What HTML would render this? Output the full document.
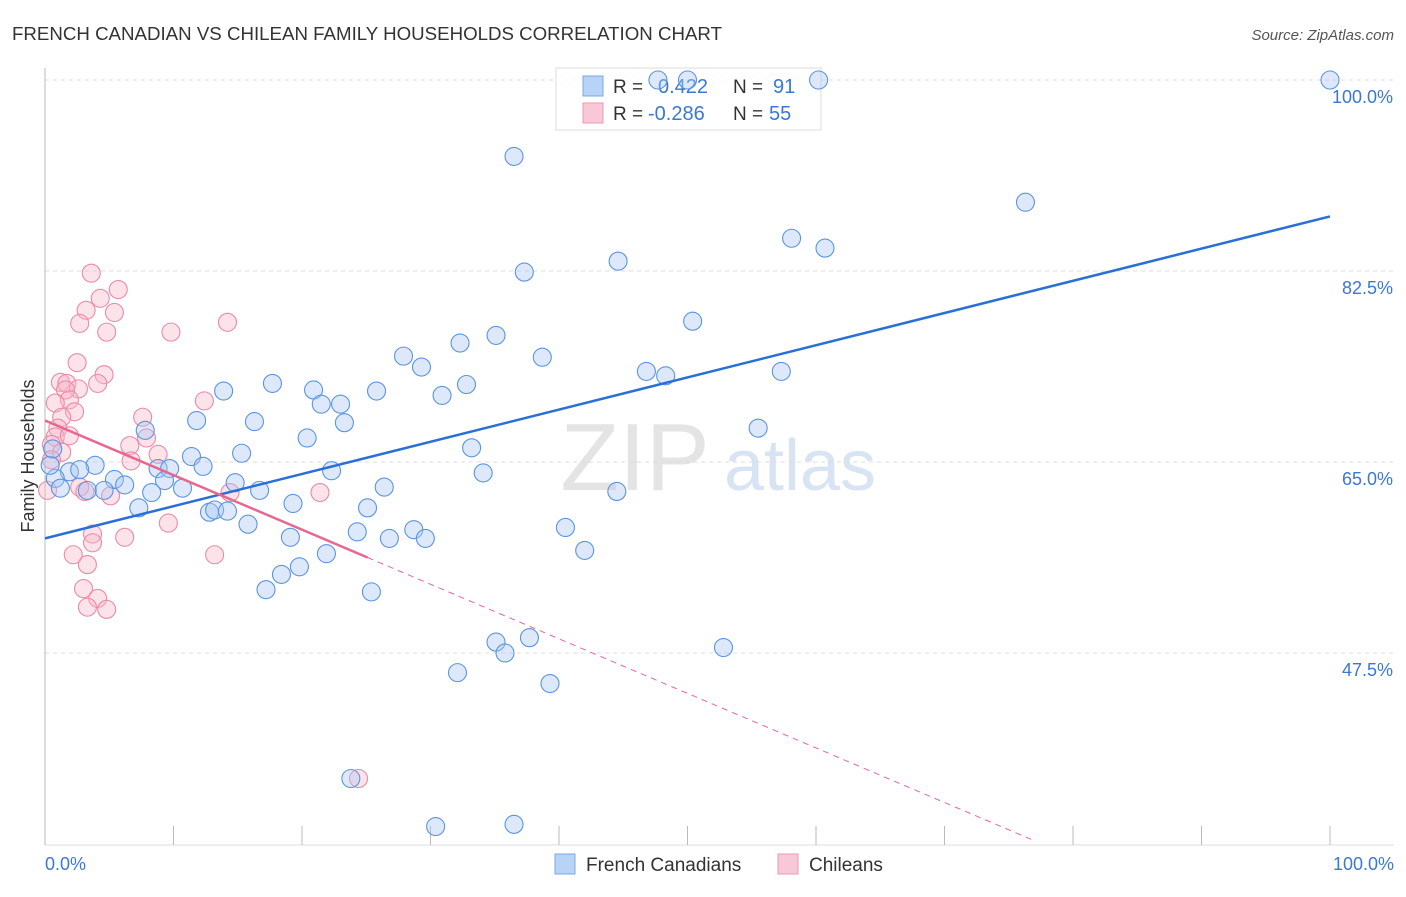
<!DOCTYPE html>
<html><head><meta charset="utf-8"><style>
body{margin:0;background:#fff;font-family:"Liberation Sans",sans-serif;}
svg text{font-family:"Liberation Sans",sans-serif;}
</style></head><body>
<svg id="chart" width="1406" height="892" xmlns="http://www.w3.org/2000/svg">
<text x="12" y="40" font-size="18" fill="#333" textLength="710" lengthAdjust="spacingAndGlyphs">FRENCH CANADIAN VS CHILEAN FAMILY HOUSEHOLDS CORRELATION CHART</text>
<text x="1394" y="40" font-size="15" fill="#555" font-style="italic" text-anchor="end">Source: ZipAtlas.com</text>
<g><text x="635" y="490" font-size="96" fill="#e4e4e4" font-family="Liberation Serif" text-anchor="middle">ZIP</text><text x="800" y="490" font-size="72" fill="#d8e4f4" text-anchor="middle">atlas</text></g>
<g id="grid"></g>
<g>
<rect x="556" y="68" width="265" height="62" fill="#fff" fill-opacity="0.8" stroke="#ddd"/>
<rect x="583" y="76" width="20" height="20" fill="#b7d3f5" stroke="#7aa8e6"/>
<text x="613" y="93" font-size="19" fill="#333">R =</text><text x="658" y="93" font-size="20" fill="#3a78d4">0.422</text>
<text x="733" y="93" font-size="19" fill="#333">N =</text><text x="773" y="93" font-size="20" fill="#3a78d4">91</text>
<rect x="583" y="103" width="20" height="20" fill="#f9c8d6" stroke="#ec9ab3"/>
<text x="613" y="120" font-size="19" fill="#333">R =</text><text x="648" y="120" font-size="20" fill="#3a78d4">-0.286</text>
<text x="733" y="120" font-size="19" fill="#333">N =</text><text x="769" y="120" font-size="20" fill="#3a78d4">55</text>
</g>
<g id="marks"></g><g id="lines"></g>
<text transform="translate(34,456) rotate(-90)" font-size="18" fill="#333" text-anchor="middle">Family Households</text>
<g>
<rect x="555" y="854" width="20" height="20" fill="#b7d3f5" stroke="#7aa8e6"/><text x="586" y="871" font-size="19" fill="#333">French Canadians</text>
<rect x="778" y="854" width="20" height="20" fill="#f9c8d6" stroke="#ec9ab3"/><text x="809" y="871" font-size="19" fill="#333">Chileans</text>
</g>
</svg>
<script>
const yTicks=[100,82.5,65,47.5];
const yTickLabels=["100.0%","82.5%","65.0%","47.5%"];
const blueX=[100,60.2,50.0,47.7,36.5,76.3,58.1,60.7,44.6,37.3,50.4,35.1,32.3,27.9,38.7,29.3,46.8,48.3,57.3,17.7,32.8,13.9,20.9,25.8,30.9,21.5,23.0,11.8,16.3,23.3,7.8,55.5,20.4,33.2,15.3,11.4,12.3,3.9,8.8,9.7,22.3,34.1,1.9,2.7,5.4,6.2,9.3,14.8,0.8,1.2,3.3,4.6,10.7,8.3,16.7,26.4,44.5,19.3,25.1,7.3,12.8,13.2,14.2,15.8,40.5,24.3,28.7,19.1,26.8,29.6,42.0,21.9,19.8,18.4,17.2,25.4,35.1,35.8,37.7,52.8,32.1,39.3,23.8,30.4,36.5,0.4,0.6];
const blueY=[100,100,100,100,93.0,88.8,85.5,84.6,83.4,82.4,77.9,76.6,75.9,74.7,74.6,73.7,73.3,72.9,73.3,72.2,72.1,71.5,71.6,71.5,71.1,70.3,70.3,68.8,68.7,68.6,67.9,68.1,67.2,66.3,65.8,65.5,64.6,64.7,64.4,64.4,64.2,64.0,64.1,64.3,63.4,62.9,63.3,63.1,63.5,62.6,62.4,62.4,62.6,62.2,62.4,62.7,62.3,61.2,60.8,60.8,60.4,60.6,60.5,59.3,59.0,58.6,58.8,58.1,58.0,58.0,56.9,56.6,55.4,54.7,53.3,53.1,48.5,47.5,48.9,48.0,45.7,44.7,36.0,31.6,31.8,64.7,66.2];
const pinkX=[3.6,5.7,4.3,3.2,5.4,2.7,4.8,9.8,14.2,2.5,4.6,1.2,1.7,4.1,2.6,1.6,1.9,0.8,12.4,2.3,1.3,7.6,1.0,0.8,1.9,7.9,6.6,0.5,1.3,8.8,6.7,0.5,0.2,2.7,3.1,5.1,14.4,21.4,3.7,3.7,6.2,9.6,13.2,2.2,3.3,3.0,4.1,3.3,4.8,24.4];
const pinkY=[82.3,80.8,80.0,78.9,78.7,77.7,76.9,76.9,77.8,74.1,73.0,72.3,72.2,72.2,71.7,71.6,70.7,70.4,70.6,69.6,69.1,69.1,68.1,67.3,67.4,67.2,66.5,66.6,65.9,65.7,65.1,65.2,62.4,62.7,62.3,61.9,62.2,62.2,58.4,57.6,58.1,59.4,56.5,56.5,55.6,53.4,52.5,51.7,51.5,36.0];
const blueFit=[58.0,87.5];
const pinkFit=[68.8,-0.5];
const NS="http://www.w3.org/2000/svg";
const sx=v=>45+v*12.85, sy=v=>80+(100-v)*10.914;
function mk(tag,a,p){const e=document.createElementNS(NS,tag);for(const k in a)e.setAttribute(k,a[k]);p.appendChild(e);return e;}
const grid=document.getElementById('grid'),marks=document.getElementById('marks'),lines=document.getElementById('lines');
yTicks.forEach((t,i)=>{
 const l=mk('line',{x1:45,x2:1394,y1:sy(t),y2:sy(t),stroke:'#ddd','stroke-dasharray':'4,4'},grid);
 
 
 const tx=mk('text',{x:1393,y:sy(t)+23,'font-size':18,fill:'#3a78d4','text-anchor':'end'},grid);tx.textContent=yTickLabels[i];
 
 
});
mk('line',{x1:45,x2:45,y1:68,y2:845,stroke:'#bbb'},grid);
mk('line',{x1:45,x2:1394,y1:845,y2:845,stroke:'#ddd'},grid);
for(let i=0;i<=10;i++){const t=mk('line',{x1:sx(i*10),x2:sx(i*10),y1:826,y2:845,stroke:'#bbb'},grid);
 
 }
[[0,'0.0%','start',45],[100,'100.0%','end',1394]].forEach(d=>{const t=mk('text',{x:d[3],y:870,'font-size':18,fill:'#3a78d4','text-anchor':d[2]},grid);t.textContent=d[1];
 
 });
function pts(X,Y,fill,stroke,name){X.forEach((x,i)=>{const c=mk('circle',{cx:sx(x),cy:sy(Y[i]),r:9,fill:fill,'fill-opacity':0.4,stroke:stroke,'stroke-width':1.1},marks);
 
 });}
pts(pinkX,pinkY,'#f7b6c9','#ec8aa8','chilean-point');
pts(blueX,blueY,'#a9c9f2','#5b94e0','french-canadian-point');
const bl=mk('line',{x1:sx(0),y1:sy(blueFit[0]),x2:sx(100),y2:sy(blueFit[1]),stroke:'#2a6fd6','stroke-width':2.5},lines);


const pf=x=>pinkFit[0]+pinkFit[1]*x;
const pl=mk('line',{x1:sx(0),y1:sy(pf(0)),x2:sx(25.1),y2:sy(pf(25.1)),stroke:'#e8668f','stroke-width':2.5},lines);


const pd=mk('line',{x1:sx(25.1),y1:sy(pf(25.1)),x2:sx(77),y2:sy(pf(77)),stroke:'#e8668f','stroke-width':1,'stroke-dasharray':'6,5'},lines);


</script>
</body></html>
